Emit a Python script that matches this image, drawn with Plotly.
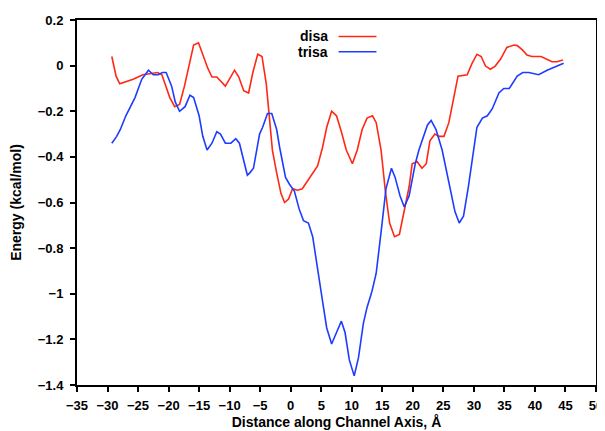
import plotly.graph_objects as go

disa_x = [-29.3, -28.6, -28.0, -25.8, -24.2, -21.8, -21.1, -19.8, -19.0, -18.2, -17.4, -15.9, -15.1,
          -13.6, -12.9, -12.1, -10.7, -9.2, -8.5, -7.7, -6.9, -6.2, -5.4, -4.7, -4.0, -3.0, -2.3, -1.6,
          -1.0, -0.35, 0.3, 1.1, 1.9, 3.1, 4.4, 5.2, 5.9, 6.7, 7.5, 8.3, 9.1, 10.1, 10.9, 11.7, 12.5,
          13.4, 14.0, 14.8, 15.5, 16.2, 17.0, 17.8, 18.6, 19.4, 19.9, 20.7, 21.5, 22.2, 22.8, 23.6,
          24.3, 25.1, 25.9, 26.8, 27.4, 28.9, 29.7, 30.5, 31.2, 31.9, 32.7, 33.5, 34.4, 35.4, 36.6,
          37.1, 37.9, 38.7, 39.5, 41.0, 42.0, 42.8, 43.6, 44.6]
disa_y = [0.04, -0.046, -0.08, -0.06, -0.04, -0.03, -0.04, -0.14, -0.18, -0.17, -0.09, 0.09, 0.10,
          -0.01, -0.05, -0.05, -0.09, -0.02, -0.05, -0.11, -0.12, -0.03, 0.05, 0.04, -0.08, -0.37, -0.47, -0.56,
          -0.60, -0.585, -0.54, -0.546, -0.54, -0.49, -0.44, -0.36, -0.27, -0.20, -0.22, -0.29, -0.37, -0.43, -0.37, -0.28, -0.23,
          -0.22, -0.25, -0.37, -0.55, -0.69, -0.75, -0.74, -0.64, -0.53, -0.43, -0.42, -0.45, -0.43, -0.33, -0.30,
          -0.31, -0.31, -0.25, -0.12, -0.046, -0.04, 0.01, 0.05, 0.04, -0.002, -0.016, -0.002, 0.03, 0.08, 0.09,
          0.088, 0.07, 0.046, 0.04, 0.04, 0.028, 0.017, 0.017, 0.025]

trisa_x = [-29.3, -28.5, -27.9, -27.0, -25.5, -24.4, -23.3, -22.5, -21.7, -21.0, -20.4, -19.5, -18.9,
           -18.2, -17.3, -16.5, -15.9, -15.0, -14.4, -13.7, -12.9, -12.1, -11.5, -10.7, -9.8, -9.0, -8.4,
           -7.1, -6.7, -6.1, -5.1, -4.6, -3.8, -3.1, -2.3, -1.8, -0.85, -0.2, 0.6, 1.4, 2.1, 2.9, 3.6, 4.4,
           5.2, 5.9, 6.7, 7.5, 8.3, 8.9, 9.6, 10.4, 11.1, 11.9, 12.5, 13.3, 14.0, 14.8, 15.6, 16.5, 17.1,
           17.9, 18.6, 19.4, 20.4, 21.0, 22.4, 23.0, 23.8, 24.8, 25.9, 26.9, 27.6, 28.3, 29.1, 30.0, 30.5,
           31.4, 32.2, 33.0, 34.1, 34.9, 35.8, 37.1, 38.0, 39.0, 40.6, 42.0, 43.4, 44.7]
trisa_y = [-0.34, -0.31, -0.28, -0.22, -0.14, -0.06, -0.02, -0.04, -0.04, -0.03, -0.03, -0.09, -0.16,
           -0.20, -0.18, -0.13, -0.14, -0.22, -0.31, -0.37, -0.34, -0.29, -0.30, -0.34, -0.34, -0.32, -0.34,
           -0.48, -0.47, -0.45, -0.30, -0.27, -0.21, -0.21, -0.28, -0.36, -0.49, -0.52, -0.55, -0.63, -0.68, -0.69, -0.75, -0.88,
           -1.03, -1.15, -1.22, -1.17, -1.12, -1.17, -1.29, -1.36, -1.28, -1.13, -1.06, -0.99, -0.91, -0.73, -0.54, -0.45, -0.49,
           -0.57, -0.62, -0.57, -0.43, -0.37, -0.26, -0.24, -0.28, -0.37, -0.52, -0.64, -0.69, -0.66, -0.53, -0.37, -0.27,
           -0.23, -0.22, -0.19, -0.12, -0.10, -0.10, -0.046, -0.03, -0.03, -0.04, -0.02, -0.005, 0.01]

series_names = ["disa", "trisa"]
series_colors = ["rgb(255,40,20)", "rgb(30,60,255)"]

FONT = "Liberation Sans"

fig = go.Figure()
for name, xs, ys, col in zip(series_names, [disa_x, trisa_x], [disa_y, trisa_y], series_colors):
    fig.add_trace(go.Scatter(x=xs, y=ys, mode="lines", name=name,
                             line=dict(color=col, width=1.6), showlegend=False))

# custom legend: text then line sample
leg_rows = [0.955, 0.913]
for name, col, yy in zip(series_names, series_colors, leg_rows):
    fig.add_annotation(x=0.487, y=yy, xref="paper", yref="paper", text=name, showarrow=False,
                       xanchor="right", yanchor="middle",
                       font=dict(family=FONT, size=14, color="black", weight="bold"))
    fig.add_shape(type="line", xref="paper", yref="paper", x0=0.504, x1=0.577, y0=yy, y1=yy,
                  line=dict(color=col, width=1.6))

axis_common = dict(showline=True, linecolor="black", linewidth=2, mirror=True,
                   ticks="outside", ticklen=5, tickwidth=2, tickcolor="black",
                   showgrid=False, zeroline=False, automargin=False,
                   tickfont=dict(family=FONT, size=13, color="black", weight="bold"))

fig.update_xaxes(range=[-35, 50], dtick=5, tick0=0, ticklabelstandoff=2,
                 title=dict(text="Distance along Channel Axis, Å", standoff=6,
                            font=dict(family=FONT, size=14, color="black", weight="bold")),
                 **axis_common)
fig.update_yaxes(range=[-1.4, 0.2], dtick=0.2, tick0=0, ticklabelstandoff=4,
                 title=dict(text="Energy (kcal/mol)", standoff=14,
                            font=dict(family=FONT, size=14, color="black", weight="bold")),
                 **axis_common)

# page body has an 8px default margin, so offset the plot area accordingly
fig.update_layout(width=605, height=431, margin=dict(l=69, r=17, t=12, b=54),
                  plot_bgcolor="white", paper_bgcolor="white")

fig.write_html("out.html")
